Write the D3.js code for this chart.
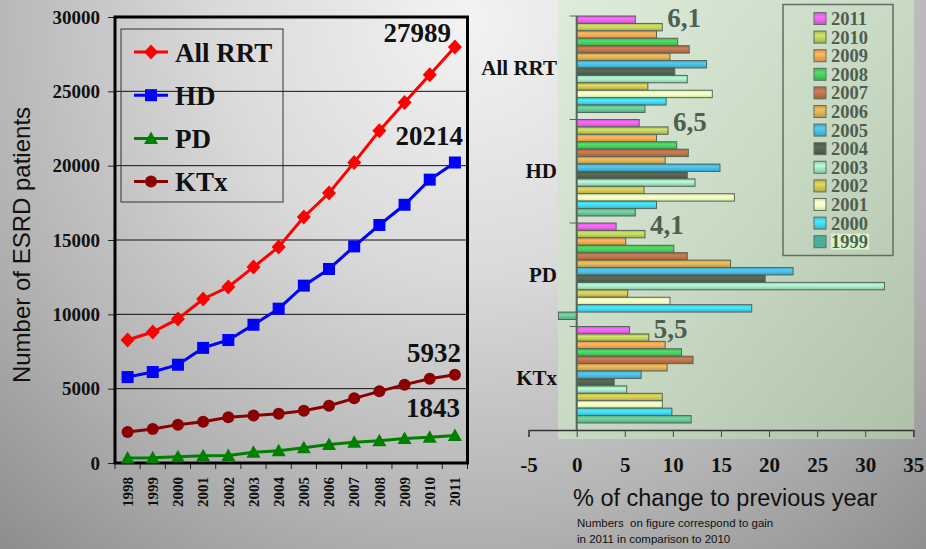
<!DOCTYPE html>
<html><head><meta charset="utf-8">
<script src="https://cdn.jsdelivr.net/npm/d3@7"></script>
<style>html,body{margin:0;padding:0;overflow:hidden;background:#999;}svg{display:block;}</style>
</head><body>
<script>
// ---------- DATA ----------
const years = ["1998","1999","2000","2001","2002","2003","2004","2005","2006","2007","2008","2009","2010","2011"];
const allRRT = [8270,8810,9690,11030,11840,13180,14530,16550,18160,20220,22350,24250,26120,27989];
const hd     = [5780,6120,6610,7740,8270,9300,10380,11930,13050,14570,16010,17370,19060,20214];
const pd     = [340,350,420,490,510,720,830,1030,1250,1390,1500,1640,1730,1843];
const ktx    = [2090,2290,2580,2780,3070,3200,3320,3520,3850,4350,4820,5270,5670,5932];
const seriesNames = ["All RRT","HD","PD","KTx"];
const yTicksLeft = [0,5000,10000,15000,20000,25000,30000];

const groups = ["All RRT","HD","PD","KTx"];
const barYears = ["2011","2010","2009","2008","2007","2006","2005","2004","2003","2002","2001","2000","1999"];
const chgAllRRT = [6.1,8.9,8.3,10.5,11.7,9.7,13.5,10.2,11.5,7.4,14.1,9.3,7.1];
const chgHD     = [6.5,9.5,8.3,10.4,11.6,9.2,14.9,11.5,12.3,7.0,16.4,8.3,6.1];
const chgPD     = [4.1,7.1,5.1,10.1,11.5,16.0,22.5,19.6,32.0,5.3,9.7,18.2,-1.9];
const chgKTx    = [5.5,7.5,9.2,10.9,12.1,9.4,6.7,3.9,5.2,8.9,8.9,9.9,11.9];
const gainLabels = ["6,1","6,5","4,1","5,5"];
const xTicksRight = [-5,0,5,10,15,20,25,30,35];
const yearColors = ["#e55fe6","#b9c95a","#eda352","#46c75a","#b86f48","#d6aa52","#47b6da","#4f5f4f","#a1dfc0","#c9c152","#e9fdb8","#41d0e8","#66c08f"];

// ---------- SETUP ----------
const W = 926, H = 549;
const svg = d3.select("body").append("svg").attr("width", W).attr("height", H);
const defs = svg.append("defs");
const bg = defs.append("radialGradient").attr("id","bg").attr("gradientUnits","userSpaceOnUse")
  .attr("cx",470).attr("cy",20).attr("r",720);
bg.append("stop").attr("offset",0).attr("stop-color","#f3f3f3");
bg.append("stop").attr("offset",0.35).attr("stop-color","#dadada");
bg.append("stop").attr("offset",0.68).attr("stop-color","#b5b5b5");
bg.append("stop").attr("offset",1).attr("stop-color","#8b8b8b");
svg.append("rect").attr("width",W).attr("height",H).attr("fill","url(#bg)");

const serif = "'Liberation Serif','Times New Roman',serif";
const sans = "'Liberation Sans',Arial,sans-serif";

// ---------- LEFT CHART ----------
const x = d3.scaleBand().domain(years).range([115,467.5]);
const y = d3.scaleLinear().domain([0,30000]).range([463,17]);
const L = svg.append("g");

L.selectAll("line.grid").data(yTicksLeft.filter(d=>d>0 && d<30000)).enter().append("line")
  .attr("x1",115).attr("x2",467.5).attr("y1",d=>y(d)).attr("y2",d=>y(d))
  .attr("stroke","#111").attr("stroke-width",1);

const yAx = L.append("g").attr("transform","translate(115,0)")
  .call(d3.axisLeft(y).tickValues(yTicksLeft).tickSize(7).tickPadding(8).tickFormat(d3.format("d")));
yAx.select(".domain").remove();
yAx.selectAll("line").attr("stroke","#222").attr("stroke-width",1);
yAx.selectAll("text").attr("font-family",serif).attr("font-weight","bold").attr("font-size","19px").attr("fill","#111");

const xAx = L.append("g").attr("transform","translate(0,463)")
  .call(d3.axisBottom(x).tickSize(0).tickPadding(0));
xAx.select(".domain").remove();
xAx.selectAll("text").attr("transform","translate(0,14) rotate(-90)").attr("text-anchor","end")
  .attr("dy","0.35em").attr("x",0).attr("y",0)
  .attr("font-family",serif).attr("font-weight","bold").attr("font-size","15px").attr("fill","#111");
L.selectAll("line.xt").data(years).enter().append("line")
  .attr("x1",d=>x(d)).attr("x2",d=>x(d)).attr("y1",463).attr("y2",469).attr("stroke","#222");
L.append("line").attr("x1",467.5).attr("x2",467.5).attr("y1",463).attr("y2",469).attr("stroke","#222");

L.append("rect").attr("x",115).attr("y",17).attr("width",352.5).attr("height",446)
  .attr("fill","none").attr("stroke","#000").attr("stroke-width",3);

L.append("text").attr("transform","translate(30,245) rotate(-90)").attr("text-anchor","middle")
  .attr("font-family",sans).attr("font-size","24px").attr("fill","#111").text("Number of ESRD patients");

const seriesData = [allRRT,hd,pd,ktx];
const seriesColors = ["#ff0000","#0000ff","#008000","#8b0000"];
function marker(g, i, cx, cy){
  const c = seriesColors[i];
  if(i===0){
    g.append("path").attr("d",`M${cx},${cy-7.5}L${cx+7},${cy}L${cx},${cy+7.5}L${cx-7},${cy}Z`).attr("fill",c);
  } else if(i===1){
    g.append("rect").attr("x",cx-6).attr("y",cy-6).attr("width",12).attr("height",12).attr("fill",c);
  } else if(i===2){
    g.append("path").attr("d",`M${cx},${cy-7}L${cx+7},${cy+5.5}L${cx-7},${cy+5.5}Z`).attr("fill",c);
  } else {
    g.append("circle").attr("cx",cx).attr("cy",cy).attr("r",6).attr("fill",c);
  }
}
const line = d3.line().x((d,i)=>x(years[i])+x.bandwidth()/2).y(d=>y(d));
seriesData.forEach((s,i)=>{
  L.append("path").datum(s).attr("d",line).attr("fill","none").attr("stroke",seriesColors[i]).attr("stroke-width",3);
  const mg = L.append("g");
  s.forEach((v,j)=>marker(mg,i,x(years[j])+x.bandwidth()/2,y(v)));
});

const endOffsets = [[-4,-5],[8,-17],[5,-19],[6,-13]];
seriesData.forEach((s,i)=>{
  const v = s[s.length-1];
  L.append("text").attr("x",x("2011")+x.bandwidth()/2+endOffsets[i][0]).attr("y",y(v)+endOffsets[i][1])
    .attr("text-anchor","end").attr("font-family",serif).attr("font-weight","bold").attr("font-size","27px")
    .attr("fill","#111").text(d3.format("d")(v));
});

const lg = L.append("g");
lg.append("rect").attr("x",121).attr("y",29).attr("width",162).attr("height",173)
  .attr("fill","none").attr("stroke","#333").attr("stroke-width",1);
seriesNames.forEach((n,i)=>{
  const cy = 52 + i*43.2;
  lg.append("line").attr("x1",134).attr("x2",168).attr("y1",cy).attr("y2",cy).attr("stroke",seriesColors[i]).attr("stroke-width",3);
  marker(lg,i,151,cy);
  lg.append("text").attr("x",175).attr("y",cy+9.5).attr("font-family",serif).attr("font-weight","bold")
    .attr("font-size","27px").attr("fill","#111").text(n);
});

// ---------- RIGHT CHART ----------
const pg = defs.append("linearGradient").attr("id","panel").attr("x1",0).attr("y1",0).attr("x2",1).attr("y2",1);
pg.append("stop").attr("offset",0).attr("stop-color","#deedda");
pg.append("stop").attr("offset",0.5).attr("stop-color","#c8d9c4");
pg.append("stop").attr("offset",1).attr("stop-color","#b0c1aa");
const R = svg.append("g");
R.append("rect").attr("x",558).attr("y",0).attr("width",356).attr("height",439).attr("fill","url(#panel)");

const xr = d3.scaleLinear().domain([-5,35]).range([528.6,913.3]);
const gy = d3.scaleBand().domain(groups).range([16,430]).padding(0);
const by = d3.scaleBand().domain(barYears).range([0,96.5]).padding(0);

yearColors.forEach((c,i)=>{
  const g = defs.append("linearGradient").attr("id","bar"+i).attr("x1",0).attr("y1",0).attr("x2",0).attr("y2",1);
  const cc = d3.color(c);
  g.append("stop").attr("offset",0).attr("stop-color",cc.darker(0.3));
  g.append("stop").attr("offset",0.35).attr("stop-color",cc.brighter(0.35));
  g.append("stop").attr("offset",0.7).attr("stop-color",c);
  g.append("stop").attr("offset",1).attr("stop-color",cc.darker(0.4));
});

const changes = [chgAllRRT,chgHD,chgPD,chgKTx];
groups.forEach((gname,gi)=>{
  const gTop = gy(gname);
  R.selectAll(null).data(changes[gi]).enter().append("rect")
    .attr("x",d=>xr(Math.min(0,d))).attr("width",d=>Math.abs(xr(d)-xr(0)))
    .attr("y",(d,j)=>gTop+by(barYears[j])).attr("height",by.bandwidth())
    .attr("fill",(d,j)=>`url(#bar${j})`).attr("stroke","#56665a").attr("stroke-width",1);
  const ref = Math.max(changes[gi][0],changes[gi][1]);
  R.append("text").attr("x",xr(ref)+5).attr("y",gTop+11).attr("font-family",serif).attr("font-weight","bold")
    .attr("font-size","27px").attr("fill","#4f5f4f").text(gainLabels[gi]);
  R.append("text").attr("x",557).attr("y",gTop+gy.bandwidth()/2+7).attr("text-anchor","end")
    .attr("font-family",serif).attr("font-weight","bold").attr("font-size","21px").attr("fill","#111").text(gname);
});

R.append("line").attr("x1",xr(0)).attr("x2",xr(0)).attr("y1",16).attr("y2",430).attr("stroke","#56665a").attr("stroke-width",2);
R.selectAll("line.gt").data(groups).enter().append("line")
  .attr("x1",xr(0)-7).attr("x2",xr(0)).attr("y1",d=>gy(d)).attr("y2",d=>gy(d)).attr("stroke","#56665a").attr("stroke-width",1);

const xrAx = R.append("g").attr("transform","translate(0,430)")
  .call(d3.axisBottom(xr).tickValues(xTicksRight).tickSize(7).tickPadding(20).tickFormat(d=>String(d)));
xrAx.select(".domain").attr("stroke","#333").attr("stroke-width",1.5);
xrAx.selectAll("line").attr("stroke","#445").attr("stroke-width",1);
xrAx.selectAll("text").attr("font-family",serif).attr("font-weight","bold").attr("font-size","21px").attr("fill","#111");

R.append("text").attr("x",573).attr("y",506).attr("font-family",sans).attr("font-size","23.5px").attr("fill","#111")
  .text("% of change to previous year");
R.append("text").attr("x",577).attr("y",527).attr("font-family",sans).attr("font-size","11.5px").attr("fill","#111")
  .attr("xml:space","preserve").style("white-space","pre")
  .text("Numbers  on figure correspond to gain");
R.append("text").attr("x",577).attr("y",543).attr("font-family",sans).attr("font-size","11.5px").attr("fill","#111")
  .text("in 2011 in comparison to 2010");

const rl = R.append("g");
rl.append("rect").attr("x",783).attr("y",4.5).attr("width",110).attr("height",251)
  .attr("fill","none").attr("stroke","#5f6f5f").attr("stroke-width",1.5);
barYears.forEach((yr,i)=>{
  const cy = 18.5 + i*18.6;
  if(yr==="1999"){
    rl.append("rect").attr("x",831).attr("y",cy-8).attr("width",38).attr("height",16).attr("fill","#d6f6c8");
  }
  rl.append("rect").attr("x",814).attr("y",cy-6).attr("width",12).attr("height",12)
    .attr("fill", yr==="1999" ? "#4aae9c" : `url(#bar${i})`).attr("stroke","#5f6f5f").attr("stroke-width",1);
  rl.append("text").attr("x",831).attr("y",cy+6.5).attr("font-family",serif).attr("font-weight","bold")
    .attr("font-size","18.5px").attr("fill","#4f5f4f").text(yr);
});
</script>
</body></html>
